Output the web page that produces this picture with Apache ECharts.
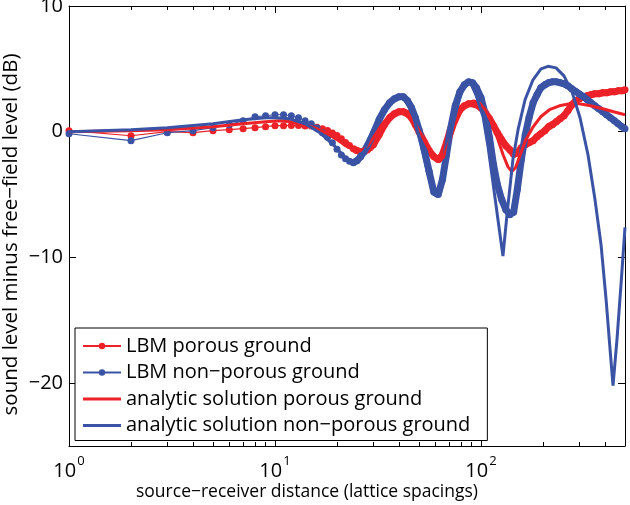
<!DOCTYPE html>
<html>
<head>
<meta charset="utf-8">
<script src="https://cdn.jsdelivr.net/npm/echarts@6/dist/echarts.min.js"></script>
<style>html,body{margin:0;padding:0;background:#fff}#c{width:630px;height:505px}</style>
</head>
<body>
<div id="c"></div>
<script>
// ---- data ----
const xLBM = [1,2,3,4,5,6,7,8,9,10,11,12,13,14,15,16,17,18,19,20,21,22,23,24,25,26,27,28,29,30,
  32,34,36,38,40,42,44,46,48,50,53,56,59,62,65,68,71,75,79,83,87,91,95,100,105,110,115,120,
  126,132,138,144,150,157,164,171,179,187,195,204,213,222,232,242,253,264,276,288,300,
  314,328,342,357,373,390,407,425,444,463,483,500];

const lbmNonPorous = [-0.16,-0.71,-0.08,0.08,0.32,0.56,0.87,1.19,1.27,1.35,
  1.35,1.27,1.11,0.87,0.63,0.30,-0.08,-0.45,-0.87,-1.40,
  -1.85,-2.15,-2.35,-2.46,-2.30,-2.00,-1.60,-1.15,-0.65,-0.15,
  0.95,1.75,2.30,2.62,2.78,2.78,2.46,1.90,1.11,0.16,
  -1.43,-3.17,-4.80,-5.00,-3.80,-1.83,0.16,
  2.06,3.17,3.73,3.97,3.90,3.49,
  2.70,1.35,-0.48,-2.62,-4.20,
  -5.40,-6.20,-6.60,-6.40,-4.60,
  -2.20,-0.24,1.11,2.30,2.94,3.49,
  3.73,3.90,3.97,3.97,3.90,3.81,3.65,3.41,3.20,3.00,
  2.80,2.55,2.30,2.06,1.83,1.59,1.35,1.11,0.87,0.63,0.40,0.24];

const lbmPorous = [0.08,-0.32,0.00,-0.08,0.08,0.16,0.24,0.32,0.40,0.48,
  0.48,0.50,0.50,0.45,0.45,0.35,0.24,0.10,-0.10,-0.30,
  -0.55,-0.85,-1.10,-1.35,-1.50,-1.60,-1.60,-1.45,-1.25,-1.03,
  -0.24,0.56,1.11,1.43,1.59,1.59,1.43,1.11,0.56,0.00,
  -0.79,-1.50,-1.98,-2.22,-1.83,-0.87,0.16,
  1.11,1.75,2.06,2.22,2.22,2.14,
  1.90,1.51,1.03,0.48,-0.08,
  -0.63,-1.11,-1.43,-1.80,-1.70,
  -1.27,-1.03,-0.87,-0.71,-0.40,-0.16,
  0.08,0.40,0.56,0.79,1.03,1.27,1.67,2.14,2.46,2.62,
  2.78,2.86,2.94,3.02,3.02,3.10,3.10,3.17,3.17,3.25,3.25,3.33];

const xAnaPorous = [1,2,3,5,7,9,10.5,12,14,16,18,20,22,24,26,28,30,33,36,39,
  42,45,48,52,56,60,63,66,70,75,80,86,92,98,105,112,120,128,135,141,
  147,155,165,178,195,215,240,270,300,340,390,440,500];
const anaPorous = [0,0.08,0.16,0.4,0.63,0.79,0.87,0.79,0.56,0.24,
  -0.16,-0.63,-1.11,-1.43,-1.51,-1.19,-0.48,0.56,1.27,1.59,
  1.59,1.27,0.63,-0.4,-1.43,-2.22,-2.38,-1.98,-0.87,0.56,
  1.59,2.22,2.46,2.3,1.75,0.79,-0.48,-1.83,-2.78,-3.17,
  -2.86,-1.83,-0.63,0.32,1.19,1.75,2.06,2.22,2.22,2.06,
  1.83,1.59,1.35];

const xAnaNonPorous = [1,2,3,5,7,9,10,11.8,14,16.5,
  19.6,22,23.6,25.2,27.3,29.6,32.3,36.2,40,42.8,
  46.2,50.6,55.3,59.1,61.8,64.7,69.2,74.8,80.9,88.5,
  94.6,102.3,108.2,114.3,120.9,127.8,133.7,142.9,151.3,163.6,
  178.8,195.6,211.4,231.2,252.8,276.5,302.5,330.6,357.5,382.4,
  404.5,423,437.3,457.3,478.4,500];
const anaNonPorous = [0,0.16,0.32,0.63,0.95,1.11,1.11,1.03,0.63,-0.08,
  -1.19,-2.1,-2.45,-2.3,-1.43,0,1.35,2.46,2.78,2.54,
  1.59,-0.63,-3.41,-5.0,-5.16,-4.2,-1.43,1.35,3.33,3.97,
  2.9,1.19,-1.2,-4.05,-7.0,-9.9,-6.6,-2.2,0.16,2.54,
  4.13,5.0,5.2,5.08,4.44,3.17,1.11,-1.83,-5.4,-8.97,
  -13.3,-17.3,-20.2,-16.5,-12.1,-7.6];

const yTicks = [-20, -10, 0, 10];
const xMinorTicks = [2,3,4,5,6,7,8,9,20,30,40,50,60,70,80,90,200,300,400];

const seriesNames = ['LBM porous ground', 'LBM non\u2212porous ground',
  'analytic solution porous ground', 'analytic solution non\u2212porous ground'];
const xTitle = 'source\u2212receiver distance (lattice spacings)';
const yTitle = 'sound level minus free\u2212field level (dB)';

// ---- chart ----
const RED = '#ed2229', BLUE = '#3a53a4';
const FONT = '"Open Sans", sans-serif';
const FSL = 20;
const BAND_FROM = 24;
const pairs = (xs, ys) => xs.map((x, i) => [x, ys[i]]);
const bandPairs = (xs, ys) => pairs(xs, ys).filter(p => p[0] >= BAND_FROM);
const minorPos = xMinorTicks.map(v => Math.log10(v));
const xMaxLog = Math.log10(500);

const chart = echarts.init(document.getElementById('c'), null, {renderer: 'canvas'});
const blackLine = {show: true, onZero: false, lineStyle: {color: '#000', width: 1}};
const noLine = {show: false, onZero: false};
const lineIcon = 'path://M0,0M0,2.5L38,2.5L38,5.5L0,5.5ZM38,8';
const option = {
  animation: false,
  backgroundColor: '#fff',
  textStyle: {fontFamily: FONT},
  grid: {left: 69, right: 5, top: 6, bottom: 59, containLabel: false, outerBoundsMode: 'none'},
  legend: {
    orient: 'vertical', left: 75, top: 328,
    padding: [8, 17, 5, 7], itemGap: 6.5, itemWidth: 38, itemHeight: 8,
    backgroundColor: '#fff', borderColor: '#000', borderWidth: 1, borderRadius: 0,
    textStyle: {fontFamily: FONT, fontSize: FSL, color: '#000', lineHeight: 20},
    selectedMode: false,
    data: [
      {name: seriesNames[0]},
      {name: seriesNames[1]},
      {name: seriesNames[2], icon: lineIcon, itemStyle: {borderWidth: 0}},
      {name: seriesNames[3], icon: lineIcon, itemStyle: {borderWidth: 0}}
    ]
  },
  xAxis: [
    {
      type: 'log', logBase: 10, min: 1, max: 500, position: 'bottom',
      axisLine: blackLine,
      axisTick: {show: true, inside: true, length: 7, lineStyle: {color: '#000'}},
      splitLine: {show: false},
      axisLabel: {
        margin: 9, color: '#000', showMaxLabel: false,
        formatter: function (v) {
          const l = Math.log10(v), e = Math.round(l);
          if (Math.abs(l - e) > 1e-6) return '';
          return '{b|10}{s|' + e + '}';
        },
        rich: {
          b: {fontFamily: FONT, fontSize: FSL, color: '#000', lineHeight: 26, verticalAlign: 'bottom'},
          s: {fontFamily: FONT, fontSize: 13, color: '#000', lineHeight: 13, verticalAlign: 'top', padding: [0, 0, 0, 1]}
        }
      },
      name: xTitle, nameLocation: 'middle', nameGap: 37, nameMoveOverlap: false,
      nameTextStyle: {fontFamily: FONT, fontSize: 17.5, color: '#000', padding: [0, 80, 0, 0]}
    },
    {
      type: 'log', logBase: 10, min: 1, max: 500, position: 'top',
      axisLine: blackLine,
      axisTick: {show: true, inside: true, length: 7, lineStyle: {color: '#000'}},
      axisLabel: {show: false}, splitLine: {show: false}
    },
    {
      type: 'value', min: 0, max: xMaxLog, position: 'bottom',
      axisLine: noLine,
      axisTick: {show: true, inside: true, length: 4, customValues: minorPos, lineStyle: {color: '#000'}},
      axisLabel: {show: false}, splitLine: {show: false}
    },
    {
      type: 'value', min: 0, max: xMaxLog, position: 'top',
      axisLine: noLine,
      axisTick: {show: true, inside: true, length: 4, customValues: minorPos, lineStyle: {color: '#000'}},
      axisLabel: {show: false}, splitLine: {show: false}
    }
  ],
  yAxis: [
    {
      type: 'value', min: -25, max: 10, position: 'left',
      axisLine: blackLine,
      axisTick: {show: true, inside: true, length: 7, customValues: yTicks, lineStyle: {color: '#000'}},
      axisLabel: {
        customValues: yTicks, margin: 6, color: '#000', fontFamily: FONT, fontSize: FSL,
        formatter: v => String(v).replace('-', '\u2212')
      },
      splitLine: {show: false},
      name: yTitle, nameLocation: 'middle', nameGap: 47, nameMoveOverlap: false,
      nameTextStyle: {fontFamily: FONT, fontSize: 20.5, color: '#000', padding: [0, 17, 0, 0]}
    },
    {
      type: 'value', min: -25, max: 10, position: 'right',
      axisLine: blackLine,
      axisTick: {show: true, inside: true, length: 7, customValues: yTicks, lineStyle: {color: '#000'}},
      axisLabel: {show: false}, splitLine: {show: false}
    }
  ],
  series: [
    {
      name: seriesNames[0] + ' (band)', type: 'line', data: bandPairs(xLBM, lbmPorous),
      symbol: 'none', lineStyle: {color: RED, width: 7}, itemStyle: {color: RED},
      emphasis: {disabled: true}, silent: true, z: 1
    },
    {
      name: seriesNames[0], type: 'line', data: pairs(xLBM, lbmPorous),
      symbol: 'circle', symbolSize: 7, showSymbol: true,
      lineStyle: {color: RED, width: 1.2}, itemStyle: {color: RED},
      emphasis: {disabled: true}, z: 2
    },
    {
      name: seriesNames[1] + ' (band)', type: 'line', data: bandPairs(xLBM, lbmNonPorous),
      symbol: 'none', lineStyle: {color: BLUE, width: 7}, itemStyle: {color: BLUE},
      emphasis: {disabled: true}, silent: true, z: 3
    },
    {
      name: seriesNames[1], type: 'line', data: pairs(xLBM, lbmNonPorous),
      symbol: 'circle', symbolSize: 7, showSymbol: true,
      lineStyle: {color: BLUE, width: 1.2}, itemStyle: {color: BLUE},
      emphasis: {disabled: true}, z: 4
    },
    {
      name: seriesNames[2], type: 'line', data: pairs(xAnaPorous, anaPorous),
      symbol: 'none', showSymbol: false,
      lineStyle: {color: RED, width: 3}, itemStyle: {color: RED},
      emphasis: {disabled: true}, z: 5
    },
    {
      name: seriesNames[3], type: 'line', data: pairs(xAnaNonPorous, anaNonPorous),
      symbol: 'none', showSymbol: false,
      lineStyle: {color: BLUE, width: 3}, itemStyle: {color: BLUE},
      emphasis: {disabled: true}, z: 6
    }
  ]
};
chart.setOption(option);
</script>
</body>
</html>
